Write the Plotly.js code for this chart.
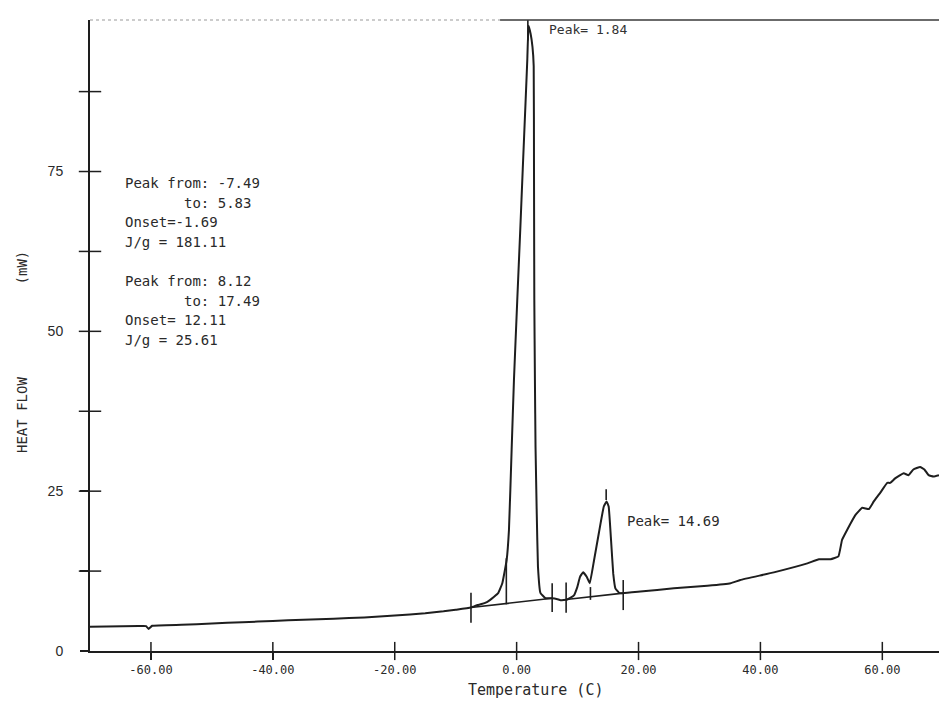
<!DOCTYPE html>
<html>
<head>
<meta charset="utf-8">
<script src="https://cdn.plot.ly/plotly-3.0.1.min.js"></script>
<style>
  html, body { margin: 0; padding: 0; background: #fff; }
  #dscGraphDiv { width: 939px; height: 701px; }
</style>
</head>
<body>
<div id="dscGraphDiv"></div>
<script>
"use strict";

// DSC heating scan
var temperatureC = [-70, -62, -60.8, -60.4, -59.8, -55, -50, -45, -40, -35, -30, -25, -20, -15, -12, -10, -7.5,
    -6.4, -5.9, -4.8, -3.7, -3.0, -2.35, -1.64, -1.26, -0.82, -0.44, 0.1, 0.6, 1.0, 1.48, 1.75, 1.95,
    2.3, 2.6, 2.8, 2.85, 2.9, 3.0, 3.1, 3.3, 3.5, 3.9, 4.75, 5.85, 6.7, 7.2, 8.3, 9.4, 9.95, 10.4, 10.9,
    11.5, 12.0, 12.7, 13.5, 14.3, 14.75, 15.1, 15.5, 15.85, 16.2, 16.8, 17.5, 20.3, 25.8, 31.3, 35.1,
    36.7, 42.2, 47.7, 49.6, 51.5, 52.8, 53.4, 54.2, 55.6, 56.7, 57.8, 58.6, 59.7, 60.8, 61.3, 62.1,
    63.5, 64.3, 65.1, 66.2, 66.9, 67.6, 68.4, 69.3];
var heatFlowMw = [3.8, 3.9, 3.9, 3.45, 3.95, 4.1, 4.3, 4.5, 4.7, 4.9, 5.05, 5.25, 5.55, 5.9, 6.2, 6.45, 6.8,
    7.2, 7.3, 7.7, 8.5, 9.1, 10.6, 14.2, 18.9, 31.5, 42.4, 54.8, 66, 75.3, 86.2, 92.5, 97.8,
    96.5, 94.5, 91.5, 75, 55, 42.4, 31.9, 21.5, 13.2, 9.1, 8.25, 8.25, 8.1, 7.95, 8.05, 8.7, 10.0, 11.6, 12.3,
    11.6, 10.6, 14.2, 18.5, 22.6, 23.4, 22.6, 17.2, 12.1, 9.8, 9.1, 9.05, 9.3, 9.8, 10.2, 10.6,
    11.1, 12.3, 13.7, 14.35, 14.35, 14.8, 17.4, 18.9, 21.3, 22.4, 22.2, 23.4, 24.8, 26.3, 26.3, 27.0,
    27.8, 27.5, 28.4, 28.8, 28.4, 27.5, 27.3, 27.5];

// integration baselines (start T, start mW, end T, end mW)
var baselineStartT = [-7.49, 8.12];
var baselineStartMw = [6.8, 8.05];
var baselineEndT = [5.83, 17.49];
var baselineEndMw = [8.25, 9.05];

// limit / onset / peak marks drawn by the analyser
var markT = [-7.49, 5.83, 8.12, 17.49, -1.69, 12.11, 14.69, 1.84];
var markLowMw = [4.4, 6.1, 6.0, 6.4, 7.3, 8.0, 23.6, 95.5];
var markHighMw = [9.1, 10.6, 10.7, 11.1, 14.5, 10.0, 25.3, 98.7];

var xTicks = [-60, -40, -20, 0, 20, 40, 60];
var xTickLabels = ["-60.00", "-40.00", "-20.00", "0.00", "20.00", "40.00", "60.00"];
var yTicks = [0, 25, 50, 75];
var yMinorTicks = [12.5, 37.5, 62.5, 87.5];

var resultLines = [
    "Peak from: -7.49",
    "       to: 5.83",
    "Onset=-1.69",
    "J/g = 181.11",
    "",
    "Peak from: 8.12",
    "       to: 17.49",
    "Onset= 12.11",
    "J/g = 25.61"
];

const xRange = [-70, 69.3];
const yRange = [0, 98.7];
const monoFont = "DejaVu Sans Mono, Liberation Mono, monospace";
const inkColor = "#1e1e1e";

function keepSpaces(s) {
    return s.replace(/ /g, "\u00a0");
}

var baseX = [], baseY = [];
for (var i = 0; i < baselineStartT.length; i++) {
    baseX.push(baselineStartT[i], baselineEndT[i], null);
    baseY.push(baselineStartMw[i], baselineEndMw[i], null);
}
var markX = [], markY = [];
for (var j = 0; j < markT.length; j++) {
    markX.push(markT[j], markT[j], null);
    markY.push(markLowMw[j], markHighMw[j], null);
}

// plotter ticks cross the axis line, so put a line-marker on every tick position
var yCrossTicks = yTicks.concat(yMinorTicks).filter(function (v) { return v !== 0; });

var dscTraces = [
    {
        x: temperatureC, y: heatFlowMw, type: "scatter", mode: "lines",
        line: { color: inkColor, width: 2, shape: "spline", smoothing: 0.3 },
        hoverinfo: "x+y"
    },
    {
        x: baseX, y: baseY, type: "scatter", mode: "lines",
        line: { color: inkColor, width: 1.6 }, hoverinfo: "skip"
    },
    {
        x: markX, y: markY, type: "scatter", mode: "lines",
        line: { color: inkColor, width: 1.6 }, hoverinfo: "skip"
    },
    {
        x: xTicks, y: xTicks.map(function () { return yRange[0]; }),
        type: "scatter", mode: "markers", cliponaxis: false, hoverinfo: "skip",
        marker: { symbol: "line-ns-open", size: 13, color: inkColor, line: { color: inkColor, width: 1.5 } }
    },
    {
        x: yCrossTicks.map(function () { return xRange[0]; }), y: yCrossTicks,
        type: "scatter", mode: "markers", cliponaxis: false, hoverinfo: "skip",
        marker: { symbol: "line-ew-open", size: 16, color: inkColor, line: { color: inkColor, width: 1.5 } }
    }
];

var topBorder = [
    {
        type: "line", xref: "paper", yref: "paper", x0: 0, x1: 0.483, y0: 1, y1: 1,
        line: { color: "#9a9a9a", width: 1.2, dash: "dot" }
    },
    {
        type: "line", xref: "paper", yref: "paper", x0: 0.483, x1: 1, y0: 1, y1: 1,
        line: { color: "#3a3a3a", width: 1.6 }
    }
];

var dscAnnotations = [];
for (var k = 0; k < resultLines.length; k++) {
    if (resultLines[k] === "") continue;
    dscAnnotations.push({
        text: keepSpaces(resultLines[k]),
        xref: "paper", yref: "paper",
        x: (123 - 90) / 849, y: (651 - (183 + k * 19.6)) / 631,
        xanchor: "left", yanchor: "middle", showarrow: false,
        font: { family: monoFont, size: 14, color: "#2a2a2a" }
    });
}
dscAnnotations.push(
    {
        text: "Peak= 1.84", x: 4.9, y: 97.2, xanchor: "left", yanchor: "middle",
        showarrow: false, font: { family: monoFont, size: 13, color: "#333" }
    },
    {
        text: "Peak= 14.69", x: 17.7, y: 20.3, xanchor: "left", yanchor: "middle",
        showarrow: false, font: { family: monoFont, size: 14, color: "#2a2a2a" }
    },
    {
        text: "Temperature (C)", xref: "paper", yref: "paper",
        x: (535 - 90) / 849, y: (651 - 690) / 631, xanchor: "center", yanchor: "middle",
        showarrow: false, font: { family: monoFont, size: 15, color: "#2a2a2a" }
    },
    {
        text: keepSpaces("HEAT FLOW           (mW)"), xref: "paper", yref: "paper",
        x: (22 - 90) / 849, y: (651 - 352) / 631, xanchor: "center", yanchor: "middle",
        textangle: -90, showarrow: false, font: { family: monoFont, size: 14, color: "#2a2a2a" }
    }
);

var dscLayout = {
    width: 939, height: 701,
    margin: { l: 90, r: 0, t: 20, b: 50 },
    paper_bgcolor: "#ffffff", plot_bgcolor: "#ffffff",
    showlegend: false,
    xaxis: {
        range: xRange, tickvals: xTicks, ticktext: xTickLabels,
        ticks: "outside", ticklen: 7, tickwidth: 1.5, tickcolor: inkColor,
        showline: true, linecolor: inkColor, linewidth: 2,
        showgrid: false, zeroline: false,
        tickfont: { family: monoFont, size: 12, color: "#2a2a2a" }
    },
    yaxis: {
        range: yRange, tickvals: yTicks,
        ticks: "outside", ticklen: 8, tickwidth: 1.5, tickcolor: inkColor,
        minor: { tickvals: yMinorTicks, ticks: "outside", ticklen: 8, tickwidth: 1.5, tickcolor: inkColor },
        showline: true, linecolor: inkColor, linewidth: 2,
        showgrid: false, zeroline: false, ticklabelstandoff: 14,
        tickfont: { family: "Liberation Sans, Arial, sans-serif", size: 14, color: "#2a2a2a" }
    },
    shapes: topBorder,
    annotations: dscAnnotations
};

Plotly.newPlot("dscGraphDiv", dscTraces, dscLayout, { displayModeBar: false, staticPlot: true });
</script>
</body>
</html>
